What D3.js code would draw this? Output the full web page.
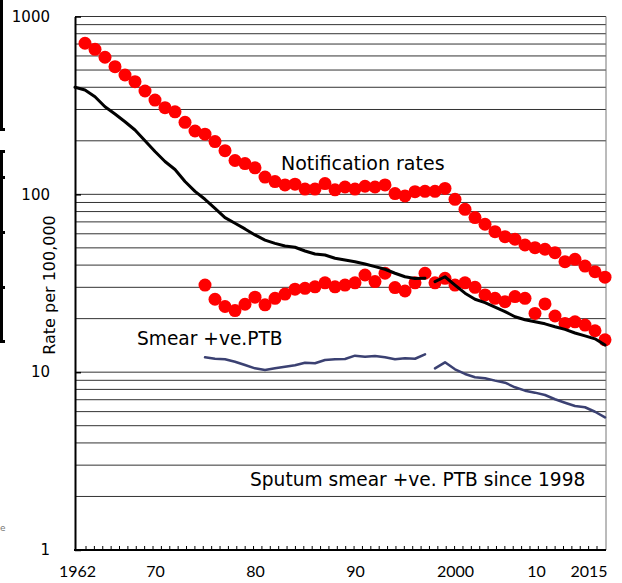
<!DOCTYPE html>
<html>
<head>
<meta charset="utf-8">
<script src="https://cdn.jsdelivr.net/npm/d3@7"></script>
<style>
  html, body { margin: 0; padding: 0; background: #fff; }
  svg { display: block; }
</style>
</head>
<body>
<svg id="chart" width="622" height="583"></svg>
<script>
// ---------- data ----------
const notifYears = d3.range(1963, 2016);
const notifRates = [707, 654, 590, 522, 469, 430, 381, 339, 307, 291,
  254, 227, 218, 198, 176, 155, 149, 141, 125, 118,
  113, 114, 107, 107, 115, 106, 110, 107, 111, 110,
  113, 101, 98, 103.5, 104, 104, 108, 93.7, 82.4, 74,
  67.9, 61.7, 57.8, 55.9, 51.9, 50.1, 49.1, 47.0, 41.8, 43.1,
  39.5, 36.7, 34.2];

const lowerYears = d3.range(1975, 2016);
const lowerRates = [30.9, 25.7, 23.4, 22.2, 24.1, 26.4, 23.9, 26.0, 27.5, 29.3,
  29.6, 30.2, 31.8, 30.2, 30.9, 31.8, 35.2, 32.3, 36.0, 29.9,
  28.6, 31.8, 36.0, 31.8, 33.7, 30.9, 31.8, 30.0, 27.2, 26.0,
  24.9, 26.6, 26.0, 21.4, 24.2, 20.7, 18.8, 19.2, 18.4, 17.1, 15.2];

const blackYearsA = d3.range(1962, 1998);
const blackRatesA = [400, 386, 354, 311, 283, 256, 230, 200, 174, 153,
  138, 118, 104, 93.8, 83.5, 74, 68.8, 63.9, 59.1, 55.3,
  53.0, 51.2, 50.4, 48.0, 46.2, 45.6, 43.7, 42.7, 41.8, 40.6,
  39.2, 37.9, 36.0, 34.4, 33.6, 33.7];
const blackYearsB = d3.range(1998, 2016);
const blackRatesB = [32.3, 34.4, 30.9, 27.8, 25.7, 24.6, 23.2, 21.9, 20.5, 19.7,
  19.2, 18.7, 18.0, 17.4, 16.6, 16.0, 15.4, 14.2];

const smearYearsA = d3.range(1975, 1998);
const smearRatesA = [12.12, 11.90, 11.81, 11.45, 10.97, 10.51, 10.28, 10.51, 10.73, 10.93,
  11.30, 11.22, 11.71, 11.81, 11.86, 12.38, 12.22, 12.33, 12.12, 11.81,
  11.97, 11.90, 12.60];
const smearYearsB = d3.range(1998, 2016);
const smearRatesB = [10.51, 11.36, 10.38, 9.77, 9.36, 9.24, 8.96, 8.73, 8.22, 7.87,
  7.67, 7.44, 7.04, 6.73, 6.45, 6.35, 5.99, 5.57];

const xTickYears = [1962, 1970, 1980, 1990, 2000, 2010, 2015];
const xTickLabels = ["1962", "70", "80", "90", "2000", "10", "2015"];
const yTickValues = [1, 10, 100, 1000];
const yTickLabels = ["1", "10", "100", "1000"];

const labelNotif = "Notification rates";
const labelSmear = "Smear +ve.PTB";
const labelSputum = "Sputum smear +ve. PTB since 1998";
const labelYAxis = "Rate per 100,000";

// ---------- scales ----------
const svg = d3.select("#chart");
const x = d3.scaleLinear().domain([1962, 2015]).range([75, 605]);
const y = d3.scaleLog().domain([1, 1000]).range([550, 16.5]);
const plotL = x(1962), plotR = x(2015) + 1;

// ---------- left edge fragments ----------
const frag = svg.append("g").attr("stroke", "#000").attr("stroke-width", 3).attr("fill", "none");
frag.append("path").attr("d", "M1.5,0 V129.5 H5");
frag.append("path").attr("d", "M5,151.5 H1.5 V341.5 H5");
[177.5, 232.5, 287.5].forEach(v => frag.append("line").attr("x1", 0).attr("x2", 5).attr("y1", v).attr("y2", v));
svg.append("text").attr("x", 0).attr("y", 531).attr("font-family", "DejaVu Sans")
  .attr("font-size", 9).attr("fill", "#777").text("e");

// ---------- gridlines ----------
const gridVals = [];
[1, 10, 100].forEach(d => { for (let k = 1; k <= 9; k++) gridVals.push(d * k); });
gridVals.push(1000);
svg.append("g").selectAll("line").data(gridVals.filter(v => v > 1)).join("line")
  .attr("x1", plotL).attr("x2", plotR)
  .attr("y1", d => y(d)).attr("y2", d => y(d))
  .attr("stroke", "#333").attr("stroke-width", 1);

// right border
svg.append("line").attr("x1", plotR).attr("x2", plotR).attr("y1", y(1000)).attr("y2", y(1))
  .attr("stroke", "#777").attr("stroke-width", 1);

// ---------- y axis ----------
const yAxis = d3.axisLeft(y).tickValues(yTickValues)
  .tickFormat((d, i) => yTickLabels[i]).tickSizeInner(-6).tickSizeOuter(0).tickPadding(25);
const gy = svg.append("g").attr("transform", `translate(${plotL},0)`).call(yAxis);
gy.select(".domain").attr("stroke", "#000").attr("stroke-width", 2);
gy.selectAll(".tick line").attr("stroke", "#000").attr("stroke-width", 1.5);
gy.selectAll("text").attr("font-family", "DejaVu Sans").attr("font-size", 15).attr("fill", "#000");

// ---------- x axis ----------
svg.append("line").attr("x1", plotL - 1).attr("x2", plotR).attr("y1", y(1)).attr("y2", y(1))
  .attr("stroke", "#000").attr("stroke-width", 2);
const minorIdx = d3.range(0, 62);
const minorPos = d3.scaleLinear().domain([0, 61]).range([86, 597]);
svg.append("g").selectAll("line").data(minorIdx).join("line")
  .attr("x1", d => minorPos(d)).attr("x2", d => minorPos(d))
  .attr("y1", y(1)).attr("y2", y(1) - 4)
  .attr("stroke", "#000").attr("stroke-width", 1);

const xAxis = d3.axisBottom(x).tickValues(xTickYears)
  .tickFormat((d, i) => xTickLabels[i]).tickSize(0).tickPadding(16);
const gx = svg.append("g").attr("transform", `translate(0,${y(1)})`).call(xAxis);
gx.select(".domain").remove();
gx.selectAll("text").attr("font-family", "Lato").attr("font-size", 16).attr("fill", "#000")
  .attr("dx", (d, i) => i === 0 ? 2 : (xTickLabels[i] === "10" ? -19 : 0))
  .attr("text-anchor", (d, i) => i === xTickYears.length - 1 ? "end" : "middle")
  .filter((d, i) => i === xTickYears.length - 1).attr("dx", 2);

// ---------- lines ----------
const lineGen = d3.line().x(d => x(d[0])).y(d => y(d[1]));
function drawLine(years, vals, color, width) {
  svg.append("path").datum(years.map((yr, i) => [yr, vals[i]]))
    .attr("d", lineGen).attr("fill", "none").attr("stroke", color)
    .attr("stroke-width", width).attr("stroke-linejoin", "round").attr("stroke-linecap", "round");
}
drawLine(smearYearsA, smearRatesA, "#3b4172", 2.5);
drawLine(smearYearsB, smearRatesB, "#3b4172", 2.5);

// ---------- dots ----------
function drawDots(years, vals) {
  svg.append("g").selectAll("circle").data(years.map((yr, i) => [yr, vals[i]])).join("circle")
    .attr("cx", d => x(d[0])).attr("cy", d => y(d[1])).attr("r", 6.5).attr("fill", "#ff0000");
}
drawDots(notifYears, notifRates);
drawDots(lowerYears, lowerRates);

drawLine(blackYearsA, blackRatesA, "#000", 3);
drawLine(blackYearsB, blackRatesB, "#000", 3);

// ---------- annotations ----------
svg.append("text").attr("x", 281).attr("y", 170).attr("font-family", "DejaVu Sans")
  .attr("font-size", 19).attr("fill", "#000").text(labelNotif);
svg.append("text").attr("x", 137).attr("y", 345).attr("font-family", "DejaVu Sans")
  .attr("font-size", 18.6).attr("fill", "#000").text(labelSmear);
svg.append("text").attr("x", 250).attr("y", 486).attr("font-family", "DejaVu Sans")
  .attr("font-size", 18.6).attr("fill", "#000").text(labelSputum);
svg.append("text").attr("transform", "translate(55,285) rotate(-90)")
  .attr("text-anchor", "middle").attr("font-family", "DejaVu Sans")
  .attr("font-size", 16).attr("fill", "#000").text(labelYAxis);
</script>
</body>
</html>
